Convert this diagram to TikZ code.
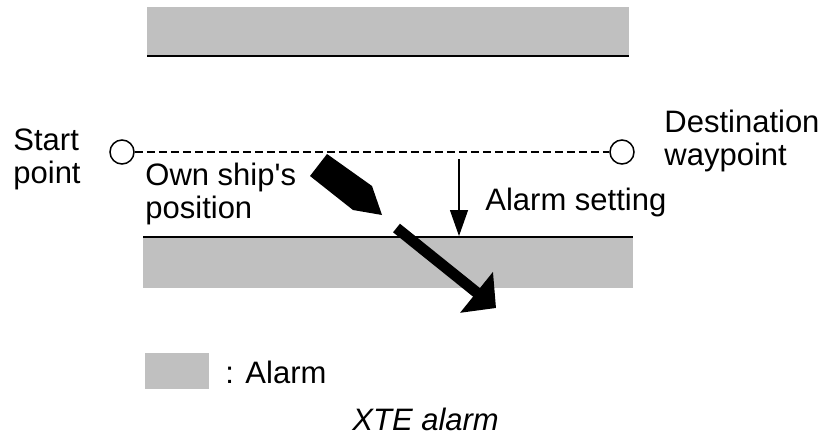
\documentclass[tikz,border=0pt]{standalone}
\usepackage{fontspec}
\setmainfont{Liberation Sans}
\usetikzlibrary{arrows.meta,positioning}
\definecolor{alarmgray}{RGB}{192,192,192}
\begin{document}
\begin{tikzpicture}[
  x=0.5pt,y=-0.5pt,
  lbl/.style={inner sep=0pt, align=left, font=\fontsize{15.5}{16.5}\selectfont},
  wpt/.style={draw, circle, line width=0.75pt, minimum size=12pt, inner sep=0pt},
  zone/.style={fill=alarmgray},
  bound/.style={line width=1pt},
  route/.style={dash pattern=on 4pt off 2pt, line width=0.65pt},
  setarr/.style={-{Triangle[length=13pt,width=9pt]}, line width=0.65pt},
  headarr/.style={-{Triangle[length=12.5pt,width=25.5pt]}, line width=5.5pt}
]
\useasboundingbox (0,0) rectangle (829,435);
\fill[zone] (147,7) rectangle (629,55);
\draw[bound] (147,56) -- (629,56);
\fill[zone] (143,237) rectangle (633,288);
\draw[bound] (143,237) -- (633,237);
\node[wpt] (from) at (122,152) {};
\node[wpt] (dest) at (622,152) {};
\node[lbl, anchor=north west] (startlbl) at (13,128) {Start\\point};
\node[lbl, anchor=north west] (destlbl) at (664,110) {Destination\\waypoint};
\node[lbl, anchor=north west] (ownlbl) at (145,163) {Own ship\textquotesingle s\\position};
\node[lbl, anchor=base west] (setlbl) at (485,210) {Alarm setting};
\node[lbl, anchor=base west] (keylbl) at (225,383) {: Alarm};
\node[lbl, anchor=base west, font=\fontsize{15.5}{16.5}\selectfont\itshape] (caption) at (352,430) {XTE alarm};
\draw[route] (from) -- (dest);
\coordinate (xtop) at (459,159);
\coordinate (xbot) at (459,236);
\draw[setarr] (xtop) -- (xbot);
\fill (327,154) -- (372,186) -- (382,215) -- (353,210) -- (310,176) -- cycle;
\coordinate (crs) at (396.5,228);
\coordinate (crsend) at (496,308);
\draw[headarr] (crs) -- (crsend);
\fill[zone] (145,353) rectangle (209,389);
\end{tikzpicture}
\end{document}
